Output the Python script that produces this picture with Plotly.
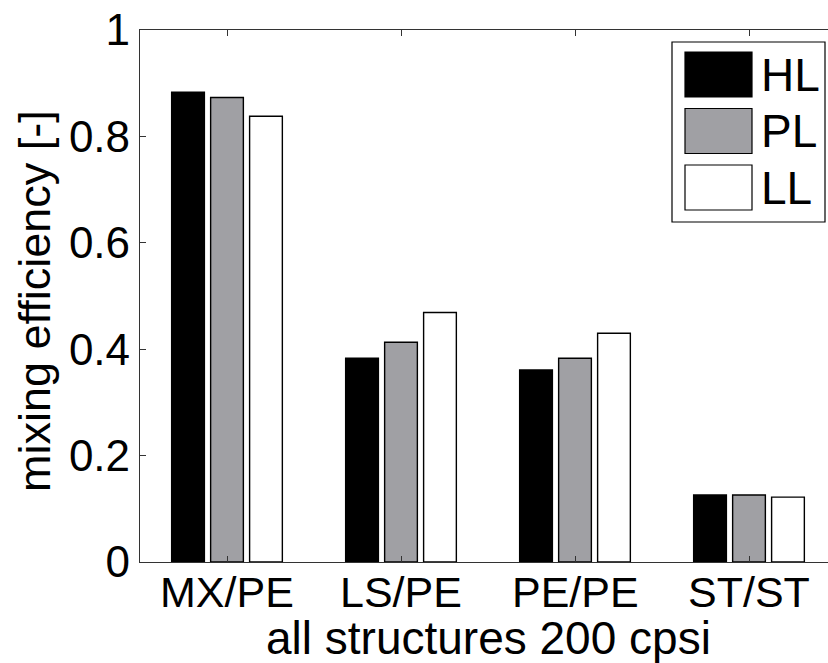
import plotly.graph_objects as go

categories = ["MX/PE", "LS/PE", "PE/PE", "ST/ST"]
series_names = ["HL", "PL", "LL"]
hl_values = [0.883, 0.383, 0.361, 0.126]
pl_values = [0.873, 0.413, 0.383, 0.126]
ll_values = [0.838, 0.469, 0.430, 0.122]
y_ticks = [0, 0.2, 0.4, 0.6, 0.8, 1]
y_tick_labels = ["0", "0.2", "0.4", "0.6", "0.8", "1"]

colors = ["#000000", "#a0a0a4", "#ffffff"]
values = [hl_values, pl_values, ll_values]

W, H = 828, 663
L, T, B = 140, 30, 101
R = 0
pw, ph = W - L - R, H - T - B
unit = 174.0
xpos = [1, 2, 3, 4]

def px2x(px):
    return (px - L) / pw

def py2y(py):
    return (H - B - py) / ph

fig = go.Figure()
for name, vals, col in zip(series_names, values, colors):
    fig.add_trace(go.Bar(
        x=xpos, y=vals, name=name,
        marker=dict(color=col, line=dict(color="#000000", width=1.4)),
        showlegend=False,
    ))

font_family = "Liberation Sans, Arial, Helvetica, sans-serif"

fig.update_layout(
    width=W, height=H,
    margin=dict(l=L, r=R, t=T, b=B, pad=0),
    paper_bgcolor="white", plot_bgcolor="white",
    barmode="group", bargap=0.328, bargroupgap=0.16,
    font=dict(family=font_family, color="black"),
    xaxis=dict(
        range=[0.5, 0.5 + pw / unit],
        tickmode="array", tickvals=xpos, ticktext=[""] * len(xpos),
        ticks="inside", ticklen=6, tickwidth=1, tickcolor="#333",
        showline=True, linecolor="#333", linewidth=1.3, mirror="ticks",
        showgrid=False, zeroline=False,
    ),
    yaxis=dict(
        range=[0, 1],
        tickmode="array", tickvals=y_ticks, ticktext=y_tick_labels,
        ticks="inside", ticklen=6, tickwidth=1, tickcolor="#333",
        showline=True, linecolor="#333", linewidth=1.3,
        showgrid=False, zeroline=False,
        tickfont=dict(size=44, family=font_family, color="black"),
    ),
)

# x tick labels
for xv, cat in zip(xpos, categories):
    fig.add_annotation(
        text=cat, xref="x", yref="paper", x=xv, y=py2y(592),
        xanchor="center", yanchor="middle", showarrow=False,
        font=dict(size=43, family=font_family, color="black"),
    )

# axis titles
fig.add_annotation(
    text="all structures 200 cpsi", xref="paper", yref="paper",
    x=px2x(488), y=py2y(638), xanchor="center", yanchor="middle",
    showarrow=False, font=dict(size=46, family=font_family, color="black"),
)
fig.add_annotation(
    text="mixing efficiency [-]", xref="paper", yref="paper",
    x=px2x(34), y=py2y(301), xanchor="center", yanchor="middle",
    textangle=-90, showarrow=False,
    font=dict(size=45, family=font_family, color="black"),
)

# custom legend
fig.add_shape(type="rect", xref="paper", yref="paper",
              x0=px2x(672), x1=px2x(825), y0=py2y(222), y1=py2y(42),
              line=dict(color="#000", width=1.2), fillcolor="white")
sw_tops = [52, 108.5, 165]
for name, col, top in zip(series_names, colors, sw_tops):
    fig.add_shape(type="rect", xref="paper", yref="paper",
                  x0=px2x(685), x1=px2x(752), y0=py2y(top + 45), y1=py2y(top),
                  line=dict(color="#000", width=1.2), fillcolor=col)
    fig.add_annotation(text=name, xref="paper", yref="paper",
                       x=px2x(759), y=py2y(top + 22.5), xanchor="left", yanchor="middle",
                       showarrow=False,
                       font=dict(size=46, family=font_family, color="black"))

fig.write_html("out.html")
